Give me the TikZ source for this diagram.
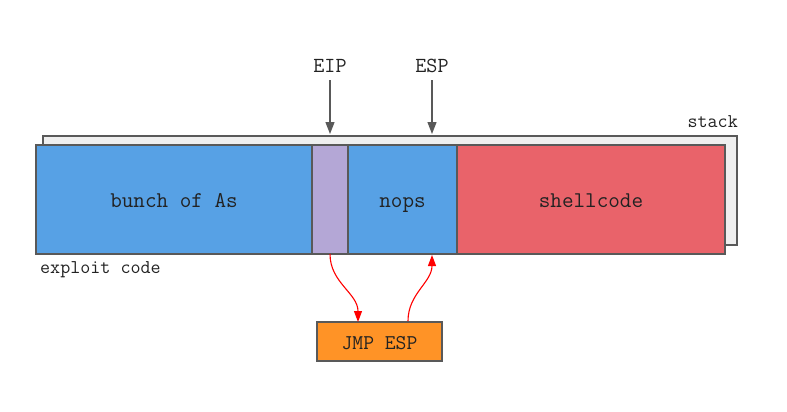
\documentclass[tikz,border=0pt]{standalone}
\usetikzlibrary{arrows.meta,positioning}

\definecolor{segblue}{HTML}{57A1E5}
\definecolor{segpurple}{HTML}{B4A7D6}
\definecolor{segred}{HTML}{E9636A}
\definecolor{jmporange}{HTML}{FF9326}
\definecolor{stackgray}{HTML}{EFEFEF}
\definecolor{edgegray}{HTML}{595959}
\definecolor{txt}{HTML}{222222}

\begin{document}
\begin{tikzpicture}[x=1pt,y=-1pt,>={Triangle[width=9pt,length=12pt]},
      seg/.style={draw=edgegray,line width=1.2pt,outer sep=0pt,inner sep=0pt,
        minimum height=109pt,text=txt,text height=15pt,text depth=0pt,
        font=\ttfamily\fontsize{22.5}{22.5}\selectfont},
      label/.style={text=txt,inner sep=0pt,font=\ttfamily\fontsize{19.5}{19.5}\selectfont},
      pointer/.style={->,draw=edgegray,line width=1.3pt},
      jump/.style={-{Triangle[width=8pt,length=11pt]},draw=red,line width=1.1pt}]

    \useasboundingbox (0,0) rectangle (787,412);

    % stack behind the exploit
    \node[seg,fill=stackgray,anchor=north west,minimum width=694pt] (stack) at (43,136) {};
    \node[label,anchor=base east] (stacklbl) at (738,127) {stack};

    % exploit code
    \node[seg,fill=segblue,anchor=north west,minimum width=276pt] (as) at (36,145) {bunch of As};
    \node[seg,fill=segpurple,minimum width=36pt] (eip) [right=0pt of as] {};
    \node[seg,fill=segblue,minimum width=109pt] (nops) [right=0pt of eip] {nops};
    \node[seg,fill=segred,minimum width=268pt] (shell) [right=0pt of nops] {shellcode};
    \node[label,anchor=base west] (exploitlbl) at (40,273) {exploit code};

    % registers
    \node[label,font=\ttfamily\fontsize{21.5}{21.5}\selectfont,anchor=base] (eiplbl) at (330,73) {EIP};
    \node[label,font=\ttfamily\fontsize{21.5}{21.5}\selectfont,anchor=base] (esplbl) at (432,73) {ESP};
    \coordinate (eiptop) at (330,134);
    \coordinate (esptop) at (432,134);
    \draw[pointer] (eiplbl.south) ++(0,7) -- (eiptop);
    \draw[pointer] (esplbl.south) ++(0,7) -- (esptop);

    % jump
    \node[seg,fill=jmporange,anchor=north west,minimum width=125pt,minimum height=39pt,
      text height=16pt,font=\ttfamily\fontsize{21}{21}\selectfont] (jmp) at (317,322) {JMP ESP};
    \coordinate (jmpin) at (358,322);
    \coordinate (jmpout) at (408,321);
    \coordinate (espbot) at (432,255);
    \draw[jump] (eip.south) to[out=-90,in=90] (jmpin);
    \draw[jump] (jmpout) to[out=90,in=-90] (espbot);
\end{tikzpicture}
\end{document}
